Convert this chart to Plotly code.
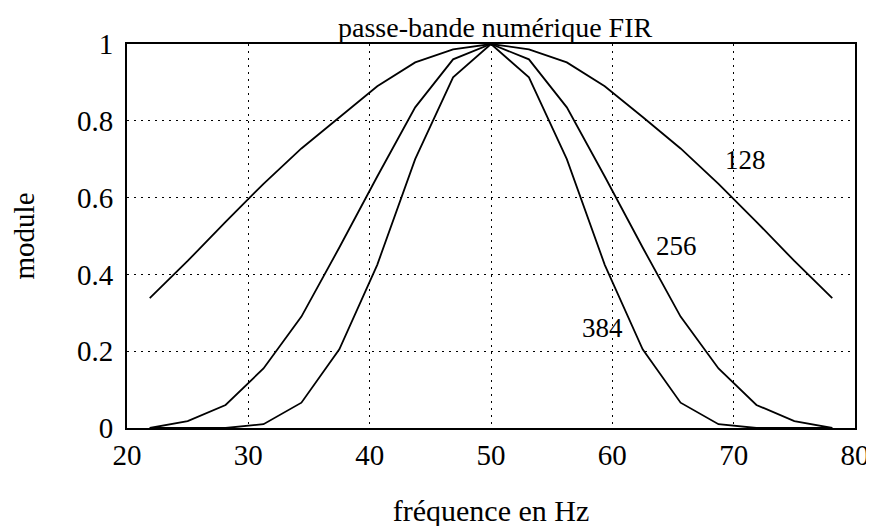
import plotly.graph_objects as go

freq = [21.875, 25.0, 28.125, 31.25, 34.375, 37.5, 40.625, 43.75, 46.875, 50.0,
        53.125, 56.25, 59.375, 62.5, 65.625, 68.75, 71.875, 75.0, 78.125]

mod_128 = [0.338, 0.435, 0.537, 0.636, 0.728, 0.81, 0.89, 0.952, 0.986, 1.0,
           0.986, 0.952, 0.89, 0.81, 0.728, 0.636, 0.537, 0.435, 0.338]
mod_256 = [0.0, 0.018, 0.06, 0.155, 0.29, 0.47, 0.655, 0.835, 0.96, 1.0,
           0.96, 0.835, 0.655, 0.47, 0.29, 0.155, 0.06, 0.018, 0.0]
mod_384 = [0.0, 0.0, 0.0, 0.01, 0.066, 0.205, 0.425, 0.70, 0.913, 1.0,
           0.913, 0.70, 0.425, 0.205, 0.066, 0.01, 0.0, 0.0, 0.0]

series_names = ["128", "256", "384"]
label_pos_x = [71.0, 65.25, 59.15]
label_pos_y = [0.698, 0.474, 0.26]

x_ticks = [20, 30, 40, 50, 60, 70, 80]
y_ticks = [0, 0.2, 0.4, 0.6, 0.8, 1]
y_tick_text = ["0", "0.2", "0.4", "0.6", "0.8", "1"]

FONT = "Liberation Serif"

fig = go.Figure()
for name, vals in zip(series_names, [mod_128, mod_256, mod_384]):
    fig.add_trace(go.Scatter(x=freq, y=vals, mode="lines", name=name,
                             line=dict(color="black", width=1.8),
                             showlegend=False, hoverinfo="skip"))

for name, lx, ly in zip(series_names, label_pos_x, label_pos_y):
    fig.add_annotation(x=lx, y=ly, text=name, showarrow=False,
                       font=dict(family=FONT, size=27, color="black"))

fig.add_annotation(x=0.505, y=1, xref="paper", yref="paper", xanchor="center",
                   yanchor="bottom", yshift=-1, showarrow=False,
                   text="passe-bande numérique FIR",
                   font=dict(family=FONT, size=28, color="black"))

axis_common = dict(showline=True, linecolor="black", linewidth=2, mirror=True,
                   showgrid=True, gridcolor="black", gridwidth=1.3,
                   griddash="2px,5px", zeroline=False, ticks="",
                   tickfont=dict(family=FONT, size=29, color="black"))

fig.update_xaxes(range=[20, 80], tickvals=x_ticks, ticklabelstandoff=0,
                 title=dict(text="fréquence en Hz", font=dict(family=FONT, size=30, color="black"),
                            standoff=30),
                 **axis_common)
fig.update_yaxes(range=[0, 1], tickvals=y_ticks, ticktext=y_tick_text, ticklabelstandoff=6,
                 title=dict(text="module", font=dict(family=FONT, size=29, color="black"),
                            standoff=36),
                 **axis_common)

fig.update_layout(
    width=874, height=526,
    margin=dict(l=119, r=22, t=36, b=102),
    paper_bgcolor="white", plot_bgcolor="white",
    font=dict(family=FONT, color="black"),
)

fig.write_html("out.html")
